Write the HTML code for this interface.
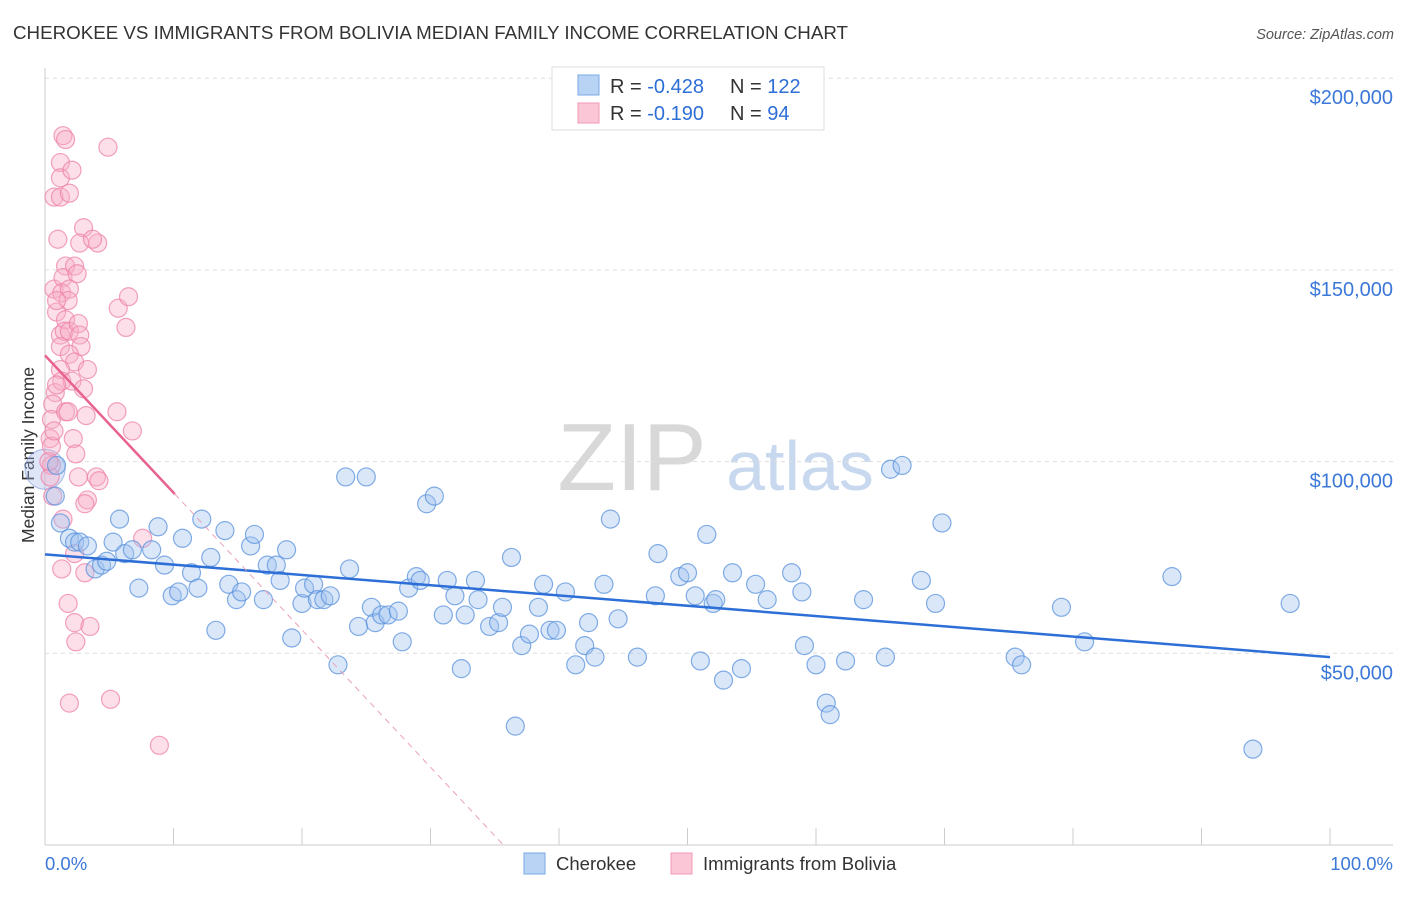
<!DOCTYPE html>
<html><head><meta charset="utf-8"><style>
body{margin:0;background:#fff;font-family:"Liberation Sans",sans-serif;}
svg text{font-family:"Liberation Sans",sans-serif;}
</style></head><body>
<svg id="c" width="1406" height="892">
<text x="13" y="39" font-size="18" fill="#333" textLength="835" lengthAdjust="spacingAndGlyphs">CHEROKEE VS IMMIGRANTS FROM BOLIVIA MEDIAN FAMILY INCOME CORRELATION CHART</text>
<text x="1394" y="39" font-size="14.5" fill="#555" text-anchor="end" font-style="italic">Source: ZipAtlas.com</text>
<g>
<text x="632" y="490" font-size="96" fill="#d8d8d8" font-family="Liberation Serif, serif" text-anchor="middle">ZIP</text>
<text x="800" y="490" font-size="70" fill="#c8d8ee" text-anchor="middle">atlas</text>
</g>
<text transform="translate(34,455) rotate(-90)" font-size="17.5" fill="#333" text-anchor="middle">Median Family Income</text>
<g id="grid"></g>
<g id="pts"></g>
<g id="trend"></g>
<g>
<rect x="552" y="67" width="272" height="63" fill="#fff" stroke="#ddd"/>
<rect x="578" y="75" width="21" height="20" fill="#b9d3f5" stroke="#7aa8e6"/>
<rect x="578" y="103" width="21" height="20" fill="#fbc6d6" stroke="#f09ab6"/>
<text x="610" y="93" font-size="20" fill="#333">R = <tspan fill="#2d6fd6">-0.428</tspan></text>
<text x="730" y="93" font-size="20" fill="#333">N = <tspan fill="#2d6fd6">122</tspan></text>
<text x="610" y="120" font-size="20" fill="#333">R = <tspan fill="#2d6fd6"> -0.190</tspan></text>
<text x="730" y="120" font-size="20" fill="#333">N = <tspan fill="#2d6fd6"> 94</tspan></text>
</g>
<g>
<rect x="524" y="853" width="21" height="21" fill="#b9d3f5" stroke="#7aa8e6"/>
<text x="556" y="870" font-size="18.5" fill="#333">Cherokee</text>
<rect x="671" y="853" width="21" height="21" fill="#fbc6d6" stroke="#f09ab6"/>
<text x="703" y="870" font-size="18.5" fill="#333">Immigrants from Bolivia</text>
</g>
<text x="45" y="870" font-size="18.5" fill="#3b78d8">0.0%</text>
<text x="1393" y="870" font-size="18.5" fill="#3b78d8" text-anchor="end">100.0%</text>
</svg>
<script>
const yTicks=[50,100,150,200];
const yTickLabels=["$50,000","$100,000","$150,000","$200,000"];
const blueX=[0.9,0.8,1.2,1.9,2.3,2.7,3.3,3.9,4.4,4.8,5.3,5.8,6.2,6.8,7.3,8.3,8.8,9.3,9.9,10.4,10.7,11.4,11.9,12.2,12.9,13.3,14.0,14.3,14.9,15.3,16.0,16.3,17.0,17.3,18.0,18.3,18.8,19.2,20.0,20.2,20.9,21.2,21.7,22.2,22.8,23.7,23.4,24.4,25.0,25.4,25.7,26.2,26.7,27.5,27.8,28.3,28.9,29.2,29.7,30.3,31.0,31.3,31.9,32.4,32.7,33.5,33.7,34.6,35.3,35.6,36.3,37.1,37.7,38.4,38.8,39.3,39.8,40.5,41.3,42.0,42.3,42.8,43.5,44.0,44.6,46.1,47.5,47.7,49.4,50.0,50.6,51.0,51.5,52.0,52.2,52.8,53.5,54.2,55.3,56.2,58.1,58.9,59.1,60.0,60.8,61.1,62.3,63.7,65.4,65.8,66.7,68.2,69.3,69.8,75.5,76.0,79.1,80.9,87.7,94.0,96.9,36.6];
const blueY=[99,91,84,80,79,79,78,72,73,74,79,85,76,77,67,77,83,73,65,66,80,71,67,85,75,56,82,68,64,66,78,81,64,73,73,69,77,54,63,67,68,64,64,65,47,72,96,57,96,62,58,60,60,61,53,67,70,69,89,91,60,69,65,46,60,69,64,57,58,62,75,52,55,62,68,56,56,66,47,52,58,49,68,85,59,49,65,76,70,71,65,48,81,63,64,43,71,46,68,64,71,66,52,47,37,34,48,64,49,98,99,69,63,84,49,47,62,53,70,25,63,31];
const pinkX=[0.7,1.0,0.7,0.9,1.2,0.8,0.6,0.5,0.4,0.5,0.4,0.6,1.2,1.2,1.4,1.6,2.1,1.2,1.9,3.0,2.7,4.1,3.7,1.6,1.4,2.3,2.5,1.3,1.9,1.8,0.9,1.6,1.5,1.9,2.6,2.7,1.2,2.8,1.9,2.3,1.2,1.3,2.1,3.3,3.0,0.9,1.6,1.8,3.2,2.2,2.4,2.6,4.0,4.2,3.3,3.1,5.6,6.8,5.7,6.5,6.3,4.9,1.4,1.3,2.3,3.1,1.8,2.3,3.5,2.4,1.9,5.1,8.9,7.6,0.3,0.5,0.7];
const pinkY=[169,158,145,139,133,118,115,111,106,99,96,91,178,174,185,184,176,169,170,161,157,157,158,151,148,151,149,144,145,142,142,137,134,134,136,133,130,130,128,126,124,121,121,124,119,120,113,113,112,106,102,96,96,95,90,89,113,108,140,143,135,182,85,72,76,71,63,58,57,53,37,38,26,80,100,104,108];
const blueTrend=[75.8,49.0];
const pinkTrend=[127.7,-3.58];
const pinkSolidEnd=10.1;
const NS="http://www.w3.org/2000/svg";
const X=p=>45+p*12.85;
const Y=v=>845-v*3.834;
function mk(t,a,par){const e=document.createElementNS(NS,t);for(const k in a)e.setAttribute(k,a[k]);par.appendChild(e);return e;}
const grid=document.getElementById('grid');
const axL=mk('line',{x1:45,y1:68,x2:45,y2:845,stroke:'#ccc'},grid);


const axB=mk('line',{x1:45,y1:845,x2:1393,y2:845,stroke:'#ccc'},grid);


for(let i=0;i<=10;i++){const t=mk('line',{x1:X(i*10),y1:828,x2:X(i*10),y2:845,stroke:'#ccc'},grid);

}
yTicks.forEach((v,i)=>{const g=mk('line',{x1:45,y1:Y(v),x2:1393,y2:Y(v),stroke:'#ddd','stroke-dasharray':'4,4'},grid);


const t=mk('text',{x:1393,y:Y(v)+26,'font-size':20,fill:'#3b78d8','text-anchor':'end'},grid);t.textContent=yTickLabels[i];

});
const pts=document.getElementById('pts');
const big=mk('circle',{cx:X(0),cy:Y(98),r:20,fill:'rgba(160,180,230,0.35)',stroke:'rgba(120,150,220,0.6)'},pts);


pinkX.forEach((x,i)=>{const c=mk('circle',{cx:X(x),cy:Y(pinkY[i]),r:9,fill:'rgba(248,175,200,0.4)',stroke:'rgba(238,130,168,0.75)','stroke-width':1.2},pts);

});
blueX.forEach((x,i)=>{const c=mk('circle',{cx:X(x),cy:Y(blueY[i]),r:9,fill:'rgba(160,195,240,0.4)',stroke:'rgba(90,145,220,0.75)','stroke-width':1.2},pts);

});
const tr=document.getElementById('trend');
const bl=mk('line',{x1:X(0),y1:Y(blueTrend[0]),x2:X(100),y2:Y(blueTrend[1]),stroke:'#2d6fd6','stroke-width':2.5},tr);


const pv=x=>pinkTrend[0]+pinkTrend[1]*x;
const zeroX=-pinkTrend[0]/pinkTrend[1];
const pl=mk('line',{x1:X(0),y1:Y(pv(0)),x2:X(pinkSolidEnd),y2:Y(pv(pinkSolidEnd)),stroke:'#e8628f','stroke-width':2.5},tr);


const pd=mk('line',{x1:X(pinkSolidEnd),y1:Y(pv(pinkSolidEnd)),x2:X(zeroX),y2:Y(0),stroke:'#eaa0b8','stroke-width':1,'stroke-dasharray':'6,5'},tr);


</script>
</body></html>
